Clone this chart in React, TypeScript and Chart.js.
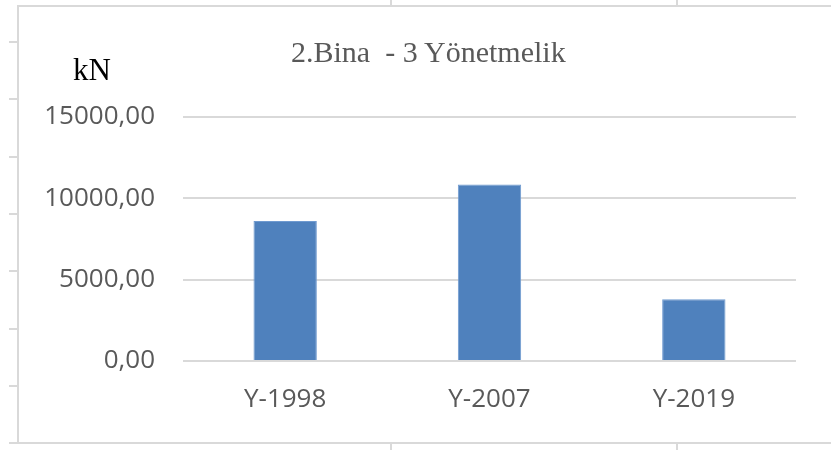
import React, { useEffect, useRef } from "react";
import { Chart, registerables } from "chart.js";

Chart.register(...registerables);

const categories = ["Y-1998", "Y-2007", "Y-2019"];
const values = [8600, 10850, 3800];
const yMin = 0;
const yMax = 15000;
const yStep = 5000;
const titleText = "2.Bina  - 3 Yönetmelik";
const unitText = "kN";

const frameColor = "#D9D9D9";
const leftTicks = [42, 99, 157, 214, 271, 329, 386, 443];
const edgeTicks = [390, 676];

export default function App() {
  const canvasRef = useRef<HTMLCanvasElement | null>(null);

  useEffect(() => {
    document.body.style.margin = "0";
    const ctx = canvasRef.current;
    if (!ctx) return;
    const chart = new Chart(ctx, {
      type: "bar",
      data: {
        labels: categories,
        datasets: [
          {
            data: values,
            backgroundColor: "#4F81BD",
            borderColor: "#6F9AD0",
            borderWidth: 1,
            categoryPercentage: 1,
            barPercentage: 0.31,
          },
        ],
      },
      options: {
        responsive: false,
        animation: false,
        devicePixelRatio: 1,
        layout: { padding: { top: 117, right: 35, left: 0, bottom: 0 } },
        plugins: {
          legend: { display: false },
          title: { display: false },
          tooltip: { enabled: false },
        },
        scales: {
          x: {
            grid: { display: false, drawTicks: false },
            border: { display: false },
            ticks: {
              color: "#595959",
              font: { family: "Open Sans", size: 26 },
              padding: 23,
            },
            afterFit: (scale: any) => {
              scale.height = 89;
            },
          },
          y: {
            min: yMin,
            max: yMax,
            grid: { color: "#D9D9D9", lineWidth: 2, drawTicks: false },
            border: { display: false },
            ticks: {
              stepSize: yStep,
              color: "#595959",
              font: { family: "Open Sans", size: 26 },
              padding: 28,
              callback: (v: any) => Number(v).toFixed(2).replace(".", ","),
            },
            afterFit: (scale: any) => {
              scale.width = 183;
            },
          },
        },
      },
    });
    return () => chart.destroy();
  }, []);

  const line = (style: React.CSSProperties) => (
    <div style={{ position: "absolute", background: frameColor, ...style }} />
  );

  return (
    <div
      style={{
        position: "fixed",
        left: 0,
        top: 0,
        width: 831,
        height: 450,
        background: "#fff",
        overflow: "hidden",
      }}
    >
      <canvas
        ref={canvasRef}
        width={831}
        height={450}
        style={{ position: "absolute", left: 0, top: 0, width: 831, height: 450 }}
      />
      {line({ left: 17, top: 5, width: 2, height: 439 })}
      {line({ left: 17, top: 5, width: 814, height: 2 })}
      {line({ left: 17, top: 442, width: 814, height: 2 })}
      {leftTicks.map((y) => (
        <div key={"l" + y} style={{ position: "absolute", left: 9, top: y - 1, width: 9, height: 1.5, background: frameColor }} />
      ))}
      {edgeTicks.map((x) => (
        <React.Fragment key={"e" + x}>
          <div style={{ position: "absolute", left: x, top: 0, width: 1.5, height: 6, background: frameColor }} />
          <div style={{ position: "absolute", left: x, top: 443, width: 1.5, height: 7, background: frameColor }} />
        </React.Fragment>
      ))}
      <div
        style={{
          position: "absolute",
          left: 291,
          top: 37,
          fontFamily: "'Liberation Serif', 'Times New Roman', serif",
          fontSize: 30,
          lineHeight: "30px",
          color: "#595959",
          whiteSpace: "pre",
        }}
      >
        {titleText}
      </div>
      <div
        style={{
          position: "absolute",
          left: 73,
          top: 54,
          fontFamily: "'Liberation Serif', 'Times New Roman', serif",
          fontSize: 31,
          lineHeight: "31px",
          color: "#000",
          whiteSpace: "pre",
        }}
      >
        {unitText}
      </div>
    </div>
  );
}
